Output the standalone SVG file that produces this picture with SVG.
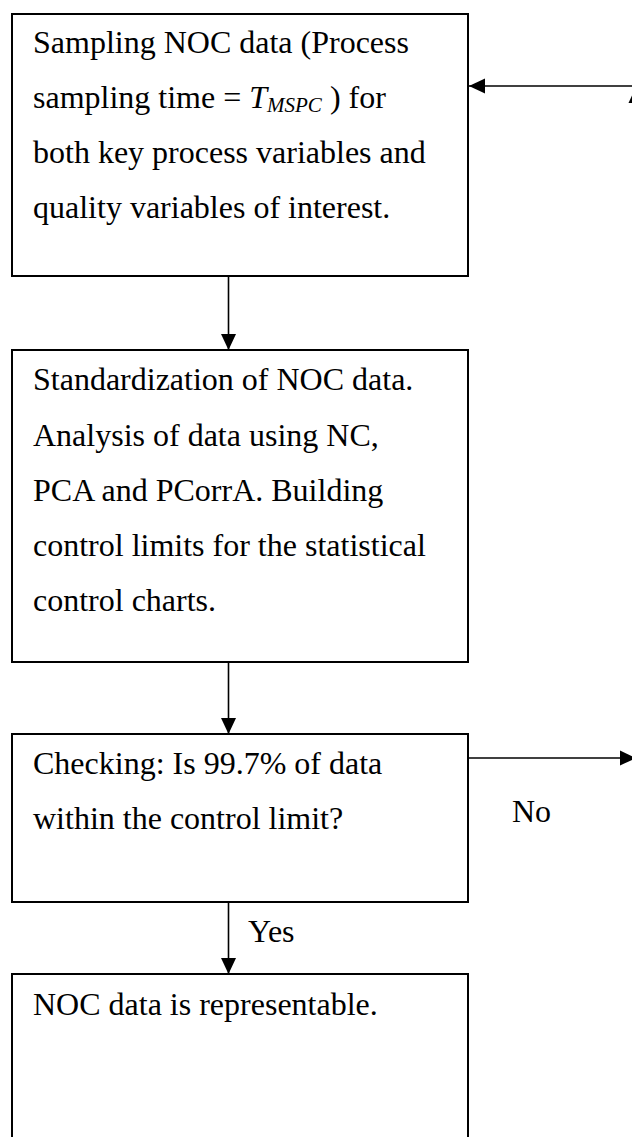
<svg xmlns="http://www.w3.org/2000/svg" width="632" height="1137" viewBox="0 0 632 1137">
  <style>
    .box { fill: #ffffff; stroke: #000000; stroke-width: 2; }
    .txt { font-family: "Liberation Serif", "Times New Roman", serif; font-size: 32px; fill: #000000; }
    .sub { font-size: 21px; font-style: italic; }
    .it { font-style: italic; }
    .conn { fill: none; stroke: #000000; stroke-width: 1.6; }
  </style>
  <defs>
    <marker id="arrow" markerUnits="userSpaceOnUse" markerWidth="16" markerHeight="16" refX="16" refY="8" orient="auto">
      <path d="M0,0.5 L16,8 L0,15.5 Z" fill="#000000"/>
    </marker>
  </defs>
  <rect width="632" height="1137" fill="#ffffff"/>

  <g id="connectors">
    <!-- sampling -> standardization -->
    <path class="conn" d="M228.5,276 L228.5,350" marker-end="url(#arrow)"/>
    <!-- standardization -> checking -->
    <path class="conn" d="M228.5,662 L228.5,734" marker-end="url(#arrow)"/>
    <!-- checking -> representable (Yes) -->
    <path class="conn" d="M228.5,902 L228.5,974" marker-end="url(#arrow)"/>
    <!-- checking -> No branch, leaving to the right -->
    <path class="conn" d="M468,758 L636,758" marker-end="url(#arrow)"/>
    <!-- return branch going up on the right -->
    <path class="conn" d="M636,740 L636,87" marker-end="url(#arrow)"/>
    <!-- return into the sampling step -->
    <path class="conn" d="M632,86 L469,86" marker-end="url(#arrow)"/>
    <text class="txt" x="248" y="942">Yes</text>
    <text class="txt" x="512" y="822">No</text>
  </g>

  <g id="node-sampling">
    <rect class="box" x="12" y="14" width="456" height="262"/>
    <text class="txt" x="33" y="53">Sampling NOC data (Process</text>
    <text class="txt" x="33" y="108">sampling time = <tspan class="it">T</tspan><tspan class="sub" dy="4">MSPC</tspan><tspan dy="-4"> ) for</tspan></text>
    <text class="txt" x="33" y="163">both key process variables and</text>
    <text class="txt" x="33" y="218">quality variables of interest.</text>
  </g>

  <g id="node-standardization">
    <rect class="box" x="12" y="350" width="456" height="312"/>
    <text class="txt" x="33" y="390">Standardization of NOC data.</text>
    <text class="txt" x="33" y="446">Analysis of data using NC,</text>
    <text class="txt" x="33" y="501">PCA and PCorrA. Building</text>
    <text class="txt" x="33" y="556">control limits for the statistical</text>
    <text class="txt" x="33" y="611">control charts.</text>
  </g>

  <g id="node-checking">
    <rect class="box" x="12" y="734" width="456" height="168"/>
    <text class="txt" x="33" y="774">Checking: Is 99.7% of data</text>
    <text class="txt" x="33" y="829">within the control limit?</text>
  </g>

  <g id="node-representable">
    <rect class="box" x="12" y="974" width="456" height="190"/>
    <text class="txt" x="33" y="1015">NOC data is representable.</text>
  </g>
</svg>
